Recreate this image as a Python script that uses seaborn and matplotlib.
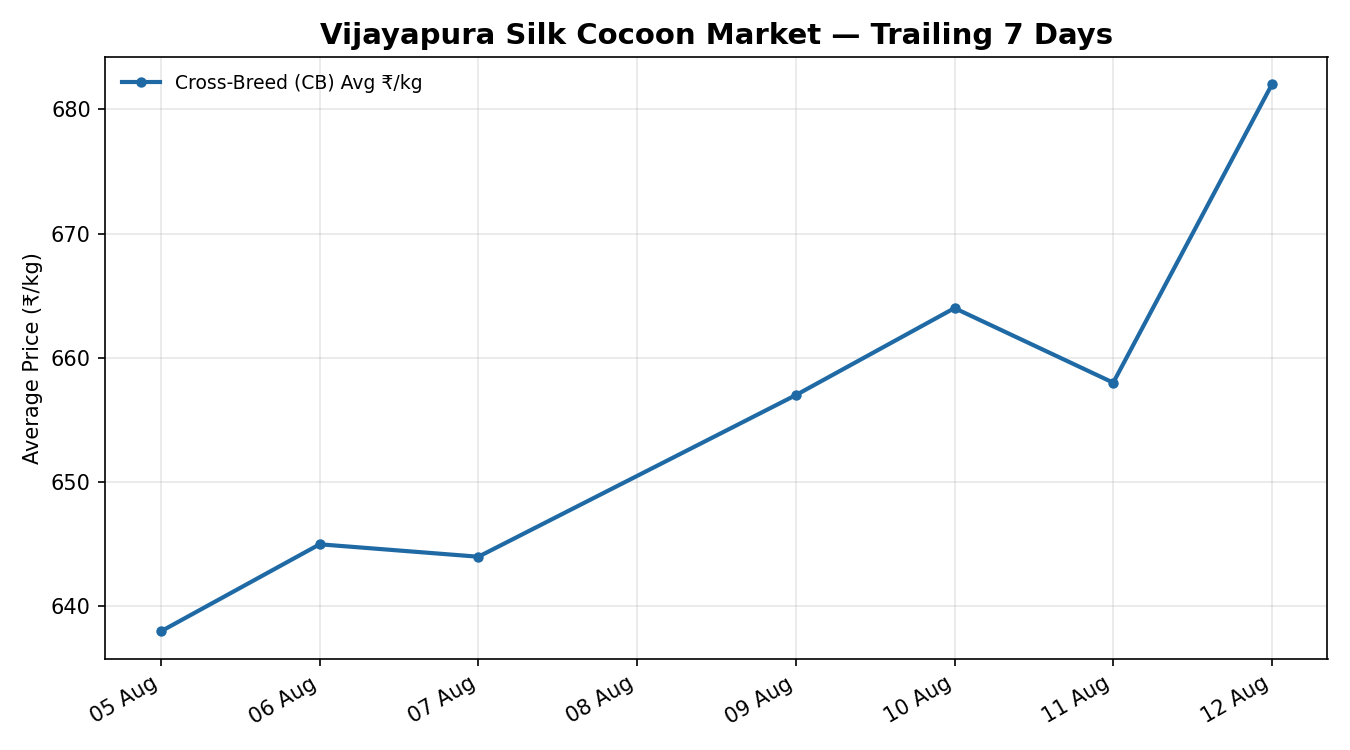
import matplotlib
matplotlib.use("Agg")
import matplotlib.pyplot as plt
import matplotlib.dates as mdates
import pandas as pd
import seaborn as sns

# Trailing 7 market days (no auction on 08 Aug)
dates = ["2024-08-05", "2024-08-06", "2024-08-07", "2024-08-09",
         "2024-08-10", "2024-08-11", "2024-08-12"]
cb_avg = [638, 645, 644, 657, 664, 658, 682]

df = pd.DataFrame({"date": pd.to_datetime(dates), "price": cb_avg})

plt.rcParams["font.family"] = ["DejaVu Sans"]

fig, ax = plt.subplots(figsize=(9, 5), dpi=150)
sns.lineplot(data=df, x="date", y="price", ax=ax, color="#1f6aa5",
             linewidth=2, marker="o", markersize=5, markeredgewidth=0,
             label="Cross-Breed (CB) Avg ₹/kg")

ax.xaxis.set_major_locator(mdates.DayLocator())
ax.xaxis.set_major_formatter(mdates.DateFormatter("%d %b"))
ax.grid(True, alpha=0.3)
ax.set_xlabel("")
ax.set_ylabel("Average Price (₹/kg)")
ax.set_title("Vijayapura Silk Cocoon Market — Trailing 7 Days",
             fontsize=14, fontweight="bold")
ax.legend(loc="upper left", frameon=False, fontsize=9)
fig.autofmt_xdate()
fig.tight_layout()
fig.savefig("out.png", dpi=150)
